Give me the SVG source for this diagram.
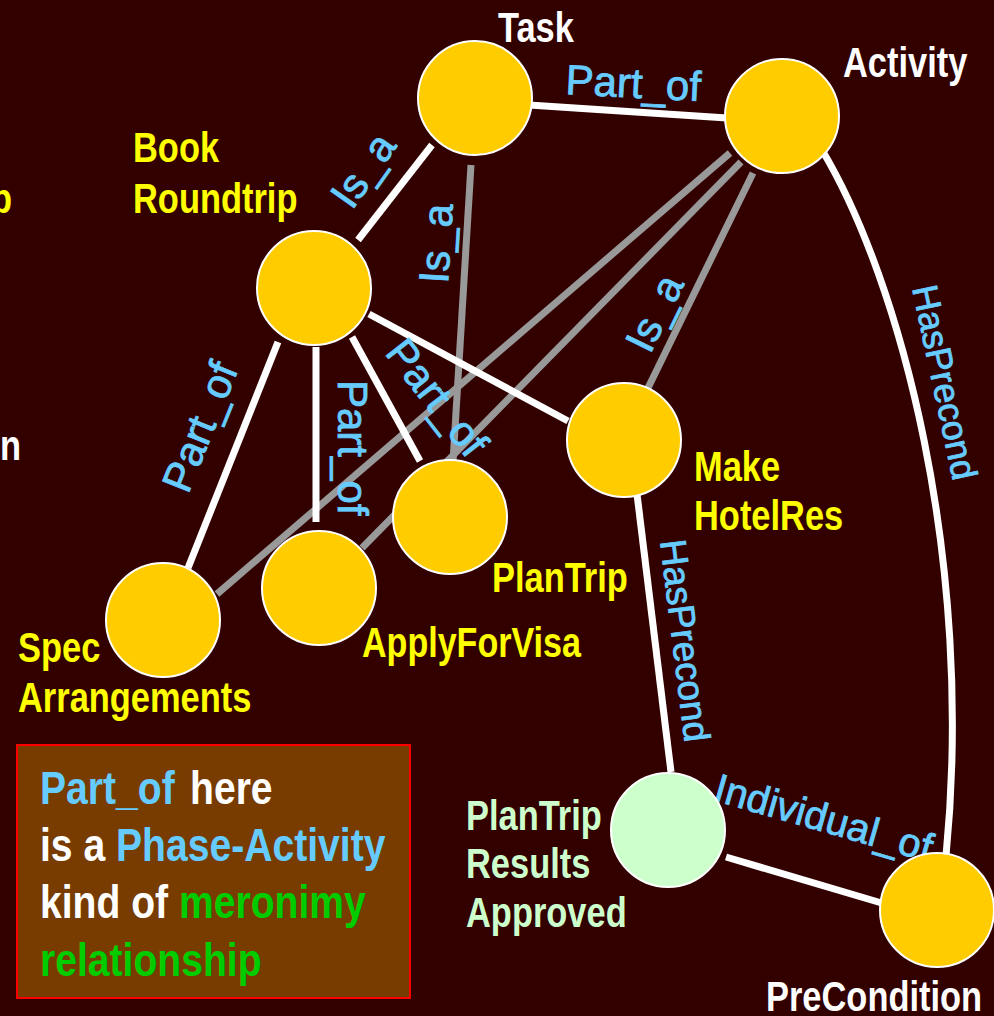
<svg xmlns="http://www.w3.org/2000/svg" width="994" height="1016" viewBox="0 0 994 1016">
<style>
.bg{fill:#330000}
.node{fill:#FFCC00;stroke:#FFFFFF;stroke-width:2}
.res{fill:#CCFFCC;stroke:#FFFFFF;stroke-width:2}
.w{stroke:#FFFFFF;stroke-width:7;fill:none}
.g{stroke:#999999;stroke-width:7;fill:none}
.lbl{font-family:"Liberation Sans",Arial,sans-serif;font-weight:bold;font-size:42px}
.el{font-family:"Liberation Sans",Arial,sans-serif;font-size:42px;fill:#66CCFF;stroke:#66CCFF;stroke-width:0.8}
.yel{fill:#FFFF00}
.wht{fill:#FFFFFF}
.grn{fill:#CCFFCC}
.leg{font-family:"Liberation Sans",Arial,sans-serif;font-weight:bold;font-size:46px}
.blue{fill:#66CCFF}
.mer{fill:#00CC00}
</style>
<rect class="bg" x="0" y="0" width="994" height="1016"/>

<g id="connectors">
  <line class="g" x1="471" y1="165" x2="453" y2="462"/>
  <line class="g" x1="730" y1="153" x2="217" y2="594"/>
  <line class="g" x1="741" y1="162" x2="362" y2="548"/>
  <line class="g" x1="753" y1="173" x2="648" y2="388"/>
  <line class="w" x1="529" y1="105" x2="727" y2="118"/>
  <line class="w" x1="358" y1="240" x2="432" y2="145"/>
  <line class="w" x1="278" y1="342" x2="188" y2="568"/>
  <line class="w" x1="316" y1="347" x2="316" y2="522"/>
  <line class="w" x1="352" y1="337" x2="420" y2="461"/>
  <line class="w" x1="369" y1="314" x2="568" y2="421"/>
  <line class="w" x1="637" y1="494" x2="671" y2="772"/>
  <line class="w" x1="726" y1="857" x2="885" y2="904"/>
  <path class="w" d="M822,150 C900,280 975,560 946,856"/>
  <text class="el" transform="translate(565,94) rotate(3)">Part_of</text>
  <text class="el" transform="translate(352,211) rotate(-55)">Is_a</text>
  <text class="el" transform="translate(448,284) rotate(-86.5)">Is_a</text>
  <text class="el" transform="translate(650,355) rotate(-64)">Is_a</text>
  <text class="el" transform="translate(188,495) rotate(-68)">Part_of</text>
  <text class="el" transform="translate(338,380) rotate(90)">Part_of</text>
  <text class="el" transform="translate(384,353) rotate(52)">Part_of</text>
  <text class="el" style="font-size:37px" transform="translate(660,541) rotate(83)">HasPrecond</text>
  <text class="el" style="font-size:36px" transform="translate(912,288) rotate(78)">HasPrecond</text>
  <text class="el" style="font-size:40px" transform="translate(712,800) rotate(16)">Individual_of</text>
</g>

<g id="task">
  <circle class="node" cx="475" cy="98" r="57"/>
  <text class="lbl wht" transform="translate(498,42) scale(0.82,1)">Task</text>
</g>
<g id="activity">
  <circle class="node" cx="782" cy="116" r="57"/>
  <text class="lbl wht" transform="translate(843,77) scale(0.82,1)">Activity</text>
</g>
<g id="book-roundtrip">
  <circle class="node" cx="314" cy="288" r="57"/>
  <text class="lbl yel" transform="translate(133,162) scale(0.82,1)">Book</text>
  <text class="lbl yel" transform="translate(133,213) scale(0.82,1)">Roundtrip</text>
</g>
<g id="make-hotelres">
  <circle class="node" cx="624" cy="440" r="57"/>
  <text class="lbl yel" transform="translate(694,481) scale(0.82,1)">Make</text>
  <text class="lbl yel" transform="translate(694,530) scale(0.82,1)">HotelRes</text>
</g>
<g id="plantrip">
  <circle class="node" cx="450" cy="517" r="57"/>
  <text class="lbl yel" transform="translate(492,592) scale(0.82,1)">PlanTrip</text>
</g>
<g id="applyforvisa">
  <circle class="node" cx="319" cy="588" r="57"/>
  <text class="lbl yel" transform="translate(362,657) scale(0.82,1)" textLength="267" lengthAdjust="spacingAndGlyphs">ApplyForVisa</text>
</g>
<g id="spec-arrangements">
  <circle class="node" cx="163" cy="620" r="57"/>
  <text class="lbl yel" transform="translate(18,662) scale(0.82,1)">Spec</text>
  <text class="lbl yel" transform="translate(18,712) scale(0.82,1)">Arrangements</text>
</g>
<g id="plantrip-results-approved">
  <circle class="res" cx="668" cy="830" r="57"/>
  <text class="lbl grn" transform="translate(466,830) scale(0.82,1)">PlanTrip</text>
  <text class="lbl grn" transform="translate(466,878) scale(0.82,1)">Results</text>
  <text class="lbl grn" transform="translate(466,927) scale(0.82,1)">Approved</text>
</g>
<g id="precondition">
  <circle class="node" cx="937" cy="910" r="57"/>
  <text class="lbl wht" transform="translate(766,1011) scale(0.82,1)">PreCondition</text>
</g>

<g id="cut-text">
  <text class="lbl yel" transform="translate(-9,213) scale(0.82,1)">p</text>
  <text class="lbl wht" transform="translate(0,460) scale(0.82,1)">n</text>
</g>

<g id="legend">
  <rect x="17" y="745" width="393" height="253" fill="#783C00" stroke="#FF0000" stroke-width="2"/>
  <text class="leg" transform="translate(40,804) scale(0.85,1)"><tspan class="blue">Part_of</tspan><tspan class="wht" x="176.5">here</tspan></text>
  <text class="leg wht" transform="translate(40,861) scale(0.85,1)">is a <tspan class="blue">Phase-Activity</tspan></text>
  <text class="leg wht" transform="translate(40,918) scale(0.85,1)">kind of <tspan class="mer">meronimy</tspan></text>
  <text class="leg mer" transform="translate(40,976) scale(0.85,1)">relationship</text>
</g>
</svg>
